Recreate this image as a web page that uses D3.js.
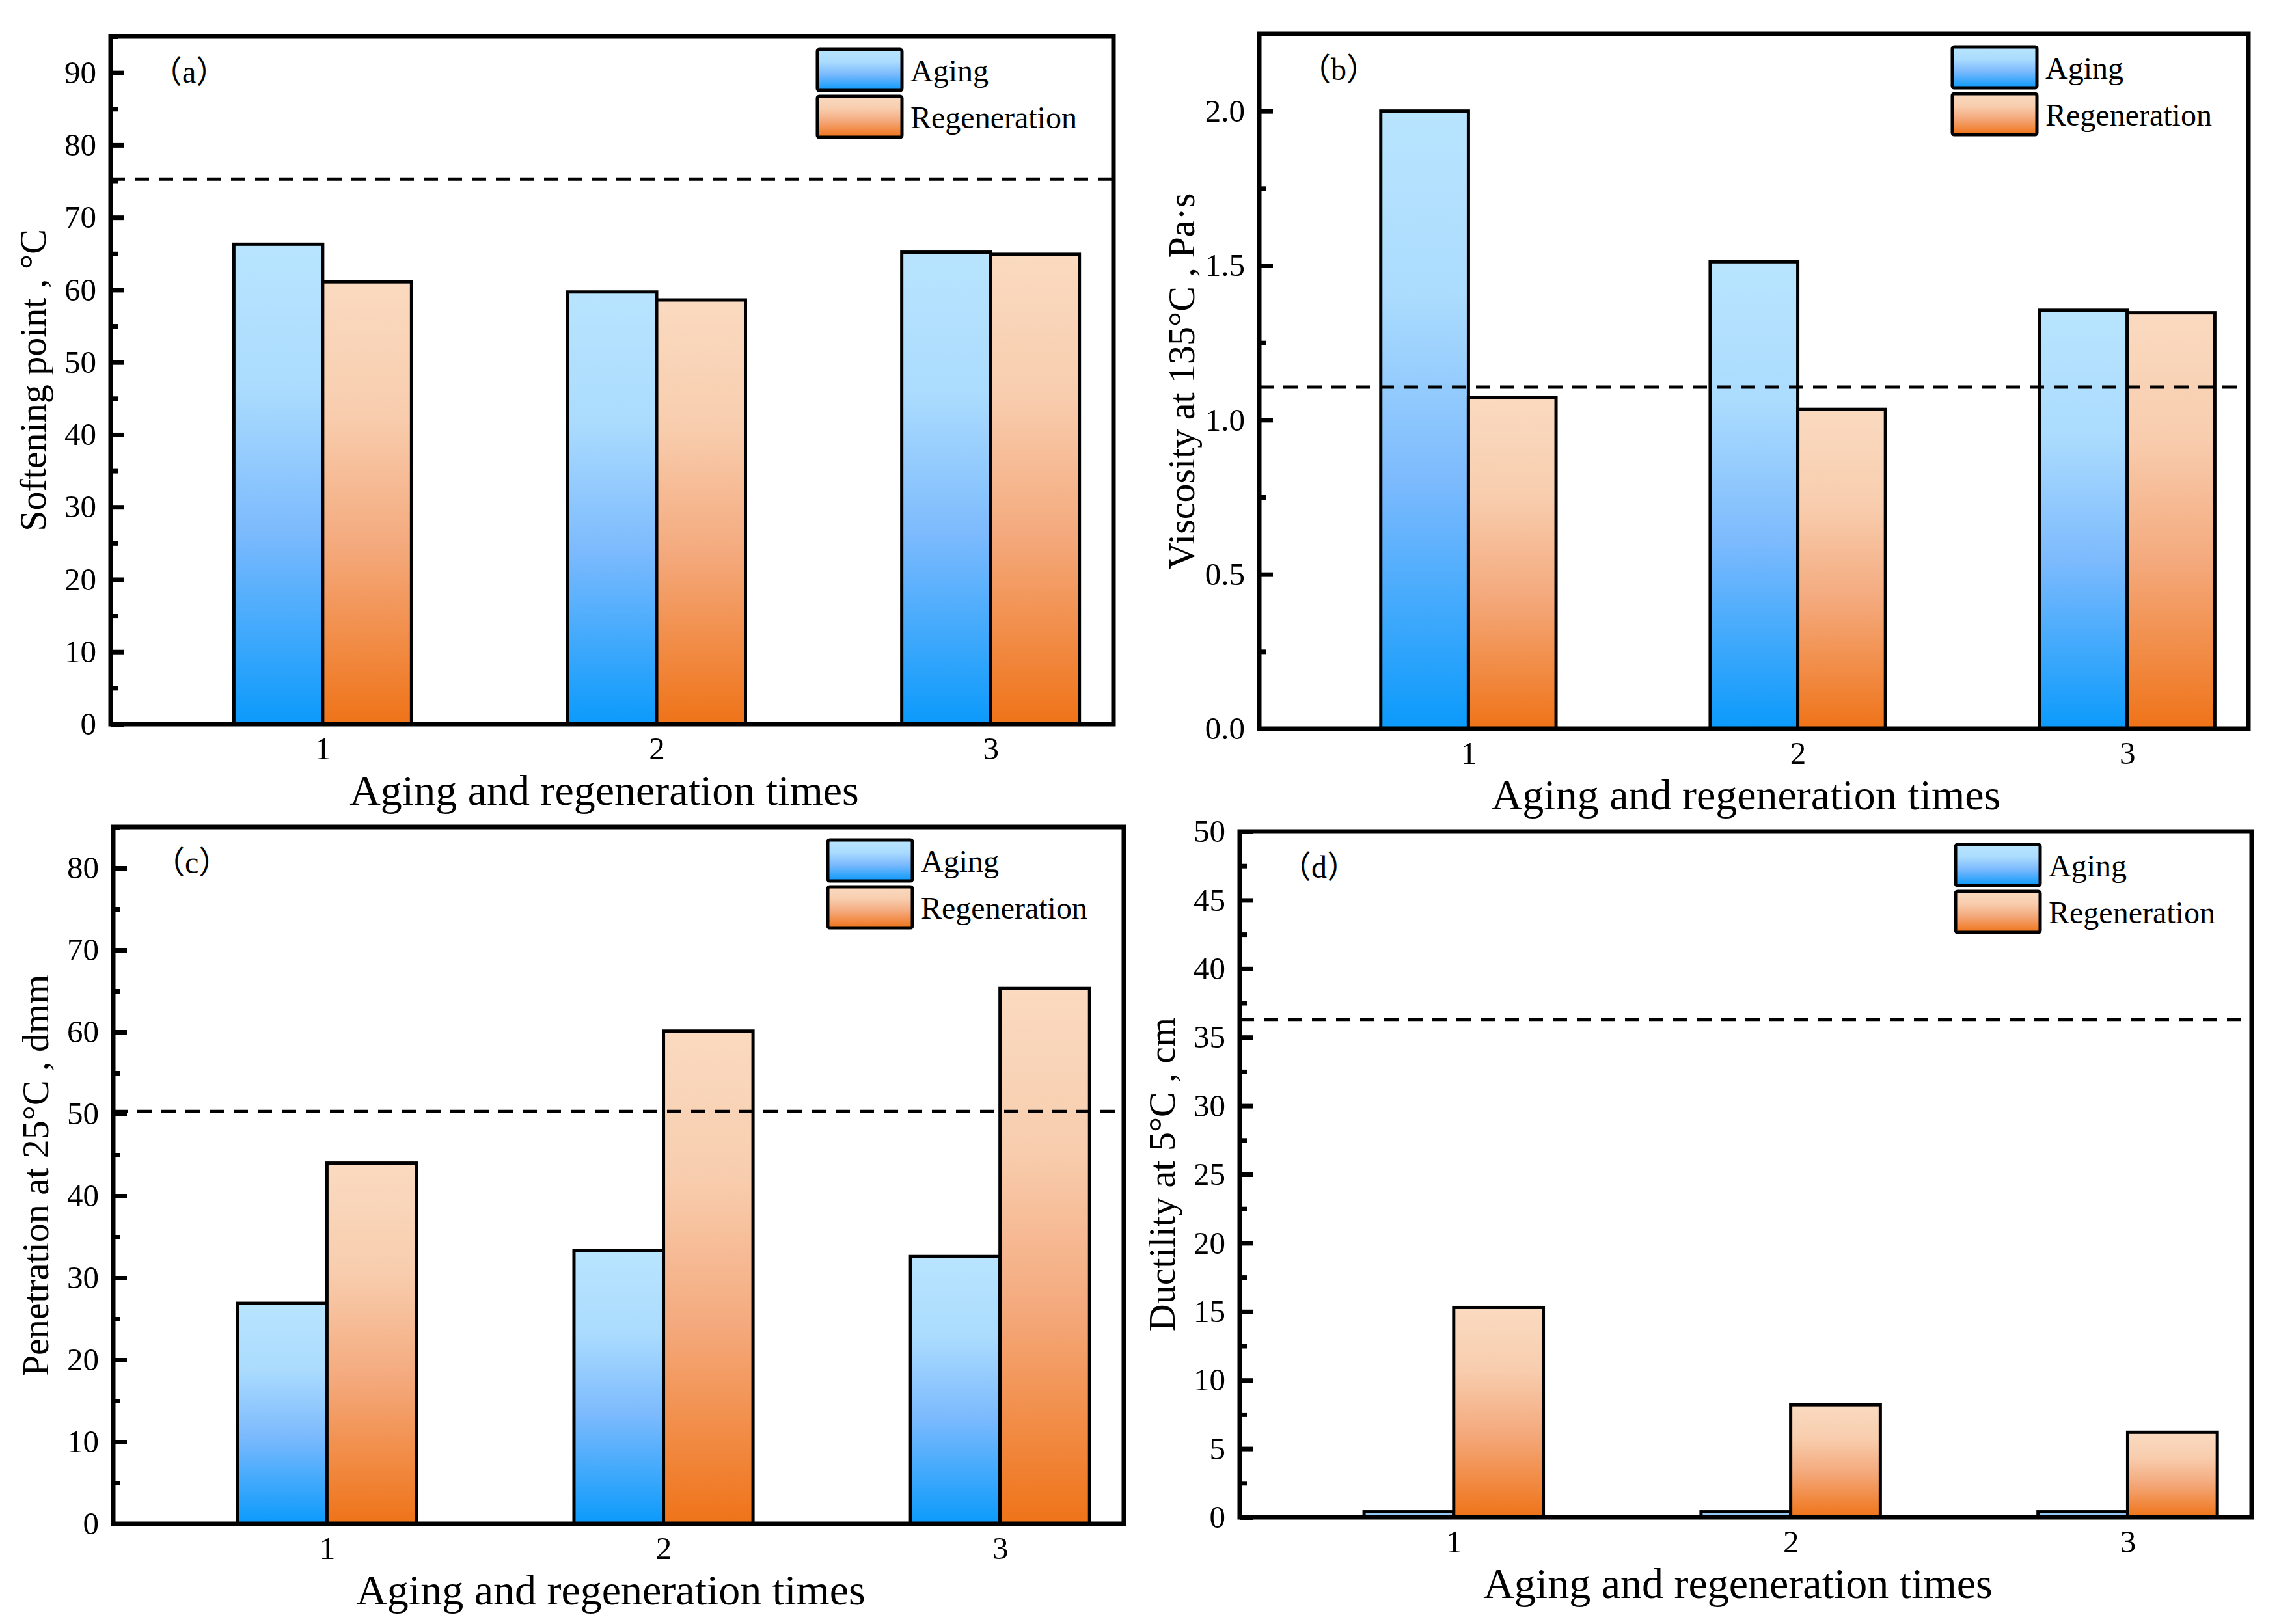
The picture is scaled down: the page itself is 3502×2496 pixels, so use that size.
<!DOCTYPE html>
<html>
<head>
<meta charset="utf-8">
<script src="https://cdn.jsdelivr.net/npm/d3@7"></script>
<style>
  body { margin: 0; background: #fff; }
  svg { display: block; }
  text { font-family: "Liberation Serif", "Times New Roman", serif; fill: #000; }
</style>
</head>
<body>
<script>
// bar chart panels: aging vs regeneration over three cycles

var categories = [1, 2, 3];
var seriesNames = ["Aging", "Regeneration"];

// (a) softening point
var softAging = [66.3, 59.7, 65.2];
var softRegen = [61.1, 58.6, 64.9];
var softRef = 75.3;
var softTicks = [0, 10, 20, 30, 40, 50, 60, 70, 80, 90];

// (b) viscosity at 135°C
var viscAging = [2.0, 1.512, 1.355];
var viscRegen = [1.072, 1.034, 1.347];
var viscRef = 1.106;
var viscTicks = [0, 0.5, 1.0, 1.5, 2.0];

// (c) penetration at 25°C
var penAging = [26.9, 33.3, 32.6];
var penRegen = [44.0, 60.1, 65.3];
var penRef = 50.3;
var penTicks = [0, 10, 20, 30, 40, 50, 60, 70, 80];

// (d) ductility at 5°C
var ductAging = [0.4, 0.4, 0.4];
var ductRegen = [15.3, 8.2, 6.2];
var ductRef = 36.3;
var ductTicks = [0, 5, 10, 15, 20, 25, 30, 35, 40, 45, 50];

var width = 3502, height = 2496;
var xDomain = [0.365, 3.368];
var barW = 0.266;

var svg = d3.select("body").append("svg")
    .attr("width", width)
    .attr("height", height);

svg.append("rect").attr("width", width).attr("height", height).attr("fill", "#fff");

// gradients for the bars
var defs = svg.append("defs");
function addGradient(id, stops) {
    var gr = defs.append("linearGradient").attr("id", id)
        .attr("x1", 0).attr("y1", 0).attr("x2", 0).attr("y2", 1);
    stops.forEach(function(s) {
        gr.append("stop").attr("offset", s[0]).attr("stop-color", s[1]);
    });
}
addGradient("gradAging", [[0, "#b8e4fe"], [0.3, "#abdcfe"], [0.6, "#7cbafd"], [1, "#0b9afb"]]);
addGradient("gradRegen", [[0, "#fadac0"], [0.3, "#f8cdae"], [0.6, "#f4a97c"], [1, "#ef7318"]]);

var panels = [
    {L: 170, R: 1711, T: 56, B: 1113, yMax: 95, ticks: softTicks, minor: 5, fmt: d3.format("d"),
     aging: softAging, regen: softRegen, ref: softRef, tag: "（a）", ylabel: "Softening point , °C"},
    {L: 1935, R: 3455, T: 52, B: 1120, yMax: 2.25, ticks: viscTicks, minor: 0.25, fmt: d3.format(".1f"),
     aging: viscAging, regen: viscRegen, ref: viscRef, tag: "（b）", ylabel: "Viscosity at 135°C , Pa·s"},
    {L: 174, R: 1727, T: 1271, B: 2342, yMax: 85, ticks: penTicks, minor: 5, fmt: d3.format("d"),
     aging: penAging, regen: penRegen, ref: penRef, tag: "（c）", ylabel: "Penetration at 25°C , dmm"},
    {L: 1905, R: 3460, T: 1278, B: 2332, yMax: 50, ticks: ductTicks, minor: 2.5, fmt: d3.format("d"),
     aging: ductAging, regen: ductRegen, ref: ductRef, tag: "（d）", ylabel: "Ductility at 5°C , cm"}
];

panels.forEach(drawPanel);

function drawPanel(p) {
    var g = svg.append("g");
    var x = d3.scaleLinear().domain(xDomain).range([p.L, p.R]);
    var y = d3.scaleLinear().domain([0, p.yMax]).range([p.B, p.T]);
    var bw = x(barW) - x(0);

    // bars
    g.selectAll("rect.aging")
        .data(p.aging)
        .enter().append("rect")
        .attr("class", "aging")
        .attr("x", function(d, i) { return x(categories[i]) - bw; })
        .attr("y", function(d) { return y(d); })
        .attr("width", bw)
        .attr("height", function(d) { return y(0) - y(d); })
        .attr("fill", "url(#gradAging)")
        .attr("stroke", "#000")
        .attr("stroke-width", 5);

    g.selectAll("rect.regen")
        .data(p.regen)
        .enter().append("rect")
        .attr("class", "regen")
        .attr("x", function(d, i) { return x(categories[i]); })
        .attr("y", function(d) { return y(d); })
        .attr("width", bw)
        .attr("height", function(d) { return y(0) - y(d); })
        .attr("fill", "url(#gradRegen)")
        .attr("stroke", "#000")
        .attr("stroke-width", 5);

    // dashed reference line
    g.append("line")
        .attr("x1", p.L).attr("x2", p.R)
        .attr("y1", y(p.ref)).attr("y2", y(p.ref))
        .attr("stroke", "#000")
        .attr("stroke-width", 5)
        .attr("stroke-dasharray", "22,15");

    // y axis, ticks pointing inward
    var minorVals = d3.range(0, p.yMax + 1e-9, p.minor).filter(function(v) {
        return p.ticks.indexOf(+v.toFixed(4)) < 0;
    });
    var yMinor = g.append("g")
        .attr("transform", "translate(" + p.L + ",0)")
        .call(d3.axisLeft(y).tickValues(minorVals).tickSizeInner(-11).tickSizeOuter(0).tickFormat(""));
    var yAxis = g.append("g")
        .attr("transform", "translate(" + p.L + ",0)")
        .call(d3.axisLeft(y).tickValues(p.ticks).tickSizeInner(-21).tickSizeOuter(0)
            .tickPadding(22).tickFormat(p.fmt));
    [yMinor, yAxis].forEach(function(ax) {
        ax.select(".domain").remove();
        ax.selectAll("line").attr("stroke", "#000").attr("stroke-width", 7);
    });
    yAxis.selectAll("text")
        .style("font-family", '"Liberation Serif", serif')
        .attr("font-size", 49);

    // x axis labels
    var xAxis = g.append("g")
        .attr("transform", "translate(0," + p.B + ")")
        .call(d3.axisBottom(x).tickValues(categories).tickSize(0).tickPadding(19).tickFormat(d3.format("d")));
    xAxis.select(".domain").remove();
    xAxis.selectAll("text")
        .style("font-family", '"Liberation Serif", serif')
        .attr("font-size", 49);

    // frame
    g.append("rect")
        .attr("x", p.L).attr("y", p.T)
        .attr("width", p.R - p.L).attr("height", p.B - p.T)
        .attr("fill", "none")
        .attr("stroke", "#000")
        .attr("stroke-width", 7);

    // axis titles
    g.append("text")
        .attr("x", (p.L + p.R) / 2 - 12)
        .attr("y", p.B + 124)
        .attr("text-anchor", "middle")
        .attr("font-size", 66)
        .text("Aging and regeneration times");

    g.append("text")
        .attr("transform", "translate(" + (p.L - 100) + "," + ((p.T + p.B) / 2) + ") rotate(-90)")
        .attr("text-anchor", "middle")
        .attr("font-size", 58)
        .text(p.ylabel);

    // panel tag
    g.append("text")
        .attr("x", p.L + 62)
        .attr("y", p.T + 71)
        .attr("font-size", 48)
        .style("font-family", '"Liberation Serif", "Noto Sans CJK SC", serif')
        .text(p.tag);

    // legend
    var lx = p.R - 455, ly = p.T + 20;
    var leg = g.selectAll("g.legend")
        .data(seriesNames)
        .enter().append("g")
        .attr("class", "legend")
        .attr("transform", function(d, i) { return "translate(" + lx + "," + (ly + i * 72) + ")"; });
    leg.append("rect")
        .attr("width", 130).attr("height", 63)
        .attr("rx", 3)
        .attr("fill", function(d, i) { return i === 0 ? "url(#gradAging)" : "url(#gradRegen)"; })
        .attr("stroke", "#000")
        .attr("stroke-width", 5);
    leg.append("text")
        .attr("x", 143)
        .attr("y", 49)
        .attr("font-size", 48)
        .text(function(d) { return d; });
}
</script>
</body>
</html>
